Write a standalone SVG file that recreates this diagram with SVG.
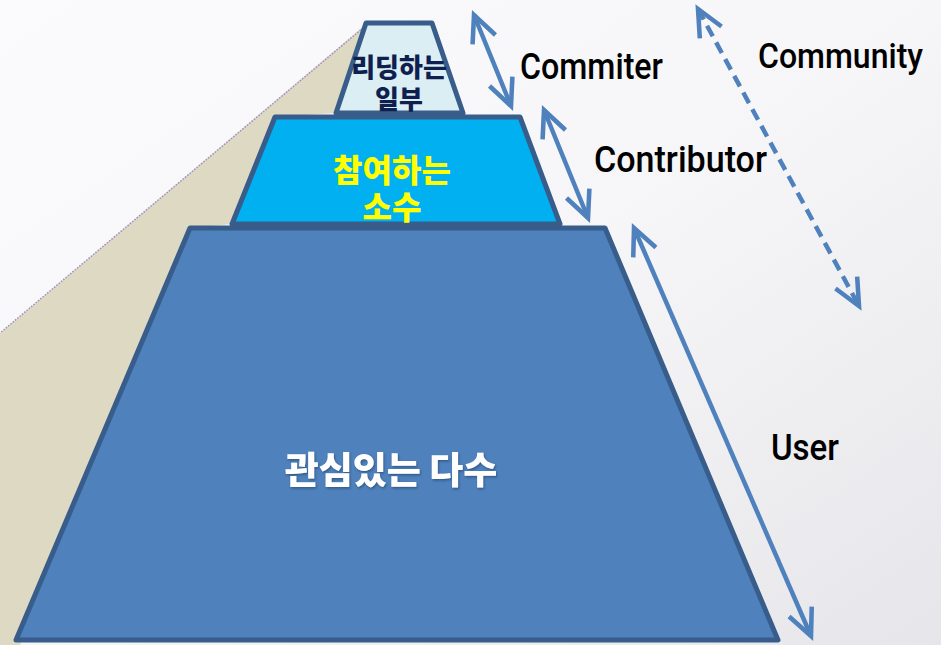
<svg xmlns="http://www.w3.org/2000/svg" width="941" height="645" viewBox="0 0 941 645">
<defs>
<linearGradient id="bg" x1="0" y1="0" x2="1" y2="1">
<stop offset="0" stop-color="#FBFBFD"/>
<stop offset="0.5" stop-color="#F6F6F8"/>
<stop offset="1" stop-color="#E6E6EA"/>
</linearGradient>
<filter id="sh" x="-5%" y="-20%" width="110%" height="140%">
<feDropShadow dx="1" dy="1.5" stdDeviation="0.8" flood-color="#1F3A5F" flood-opacity="0.6"/>
</filter>
<marker id="ah2" viewBox="0 0 20 20" refX="17" refY="10" markerWidth="38" markerHeight="38" orient="auto-start-reverse" markerUnits="userSpaceOnUse">
<path d="M3,3.5 L17,10 L3,16.5" fill="none" stroke="#4F81BD" stroke-width="2.4" stroke-linejoin="miter"/>
</marker>
<style>
.tier{stroke:#385D8A;stroke-width:5;stroke-linejoin:round}
.conn{stroke:#4F81BD;stroke-width:4.5;fill:none;marker-start:url(#ah2);marker-end:url(#ah2)}
.lbl{font-family:Roboto,"Liberation Sans",sans-serif;font-weight:500;fill:#000}
.ko{font-family:"Noto Sans CJK KR",sans-serif;font-weight:900;text-anchor:middle}
</style>
</defs>
<rect width="941" height="645" fill="url(#bg)"/>
<polygon points="365,25 0,333 0,645 20,645 190,228 232,224 275,117 336,113 366,23" fill="#DDD9C3"/>
<line x1="363" y1="28" x2="0" y2="333" stroke="#A08CC8" stroke-width="1.5" stroke-dasharray="1.5,1.5"/>
<g id="tier-bottom">
<polygon class="tier" points="190,228 605,228 778,640 16,640" fill="#4F81BD"/>
<text class="ko" x="391" y="484" font-size="37" fill="#FFFFFF" filter="url(#sh)">관심있는 다수</text>
</g>
<g id="tier-middle">
<polygon class="tier" points="275,117 520,117 560,224 232,224" fill="#00B0F0"/>
<text class="ko" x="392" y="182" font-size="32" fill="#FFFF00">참여하는</text>
<text class="ko" x="392" y="219" font-size="32" fill="#FFFF00">소수</text>
</g>
<g id="tier-top">
<polygon class="tier" points="366,23 432,23 463,113 336,113" fill="#DAEEF3"/>
<text class="ko" x="399" y="77" font-size="26" fill="#0F1F4F">리딩하는</text>
<text class="ko" x="399" y="109" font-size="26" fill="#0F1F4F">일부</text>
</g>
<g id="connectors">
<line class="conn" x1="474" y1="15" x2="511" y2="106"/>
<line class="conn" x1="544" y1="110" x2="588" y2="218"/>
<line class="conn" x1="634" y1="228" x2="811" y2="636"/>
<line class="conn" x1="698" y1="9" x2="859" y2="306" stroke-dasharray="12,7"/>
</g>
<g id="labels">
<text class="lbl" x="520" y="79" font-size="36" textLength="143" lengthAdjust="spacingAndGlyphs">Commiter</text>
<text class="lbl" x="758" y="68" font-size="35" textLength="165" lengthAdjust="spacingAndGlyphs">Community</text>
<text class="lbl" x="594" y="172" font-size="36" textLength="173" lengthAdjust="spacingAndGlyphs">Contributor</text>
<text class="lbl" x="771" y="460" font-size="36" textLength="68" lengthAdjust="spacingAndGlyphs">User</text>
</g>
</svg>
